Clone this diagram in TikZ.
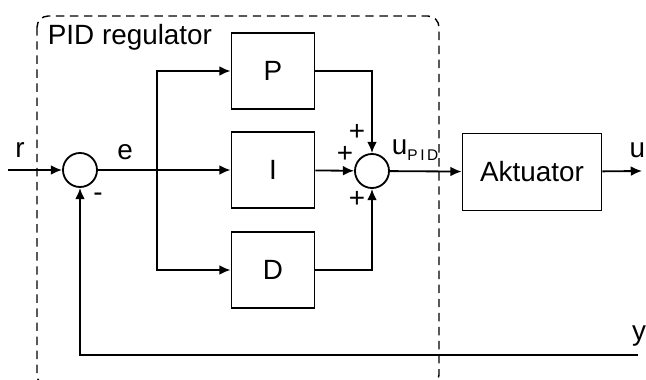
\documentclass[tikz,border=0pt]{standalone}
\usepackage{fontspec}
\setmainfont{Liberation Sans}
\usetikzlibrary{arrows.meta}

\begin{document}
\begin{tikzpicture}[
  x = 0.025cm,
  y = -0.025cm,
  line width = 1.3pt,
  >={Latex[length=8pt, width=7pt]},
  every node/.style = {font = \fontsize{19.8}{22}\selectfont},
  block/.style = {draw, minimum width = 2.075cm, minimum height = 1.9cm},
  junction/.style = {draw, circle, minimum size = 0.85cm, inner sep = 0pt},
  sign/.style = {inner sep = 0pt},
  ]

  \useasboundingbox (0, 0) rectangle (646, 380);

  \draw [line width = 1pt, dash pattern = on 6pt off 4pt, rounded corners = 8]
  (37, 16) rectangle (439, 386);

  \node at (47, 37)
  [anchor = west, inner sep = 0pt, name = Title] {PID regulator};

  \coordinate (Input) at (8, 170);
  \coordinate (Branch) at (157, 170);
  \coordinate (Output) at (642, 171);
  \coordinate (Feedback) at (638, 355);

  \node at (80, 170)
  [junction, name = ErrorSum] {};

  \node at (273, 71)
  [block, name = Proportional] {P};

  \node at (273, 170)
  [block, name = Integral] {I};

  \node at (273, 270)
  [block, name = Derivative] {D};

  \node at (372, 171)
  [junction, name = OutputSum] {};

  \node at (532, 172)
  [draw, minimum width = 3.475cm, minimum height = 1.925cm, name = Actuator] {Aktuator};

  \draw [->] (Input) to (ErrorSum);

  \draw [->] (ErrorSum) to (Integral);

  \draw [->] (Branch) |- (Proportional);

  \draw [->] (Branch) |- (Derivative);

  \draw [->] (Proportional) -| (OutputSum);

  \draw [->] (Integral) to (OutputSum);

  \draw [->] (Derivative) -| (OutputSum);

  \draw [->] (OutputSum) to (Actuator);

  \draw [->] (Actuator) to (Output);

  \draw [->] (Feedback) -| (ErrorSum);

  \node at (20, 150) [sign, name = LabelR] {r};

  \node at (125, 152) [sign, name = LabelE] {e};

  \node at (98, 197) [sign, name = MinusE] {-};

  \node at (357, 132) [sign, name = PlusP] {+};

  \node at (345, 154) [sign, name = PlusI] {+};

  \node at (357, 199) [sign, name = PlusD] {+};

  \node at (391, 150)
  [anchor = west, inner sep = 0pt, name = LabelUPID]
  {u\raisebox{-0.45ex}{\fontsize{11}{12}\selectfont P\,I\,D}};

  \node at (646, 150) [anchor = east, inner sep = 0pt, name = LabelU] {u};

  \node at (639, 336) [sign, name = LabelY] {y};

\end{tikzpicture}
\end{document}
